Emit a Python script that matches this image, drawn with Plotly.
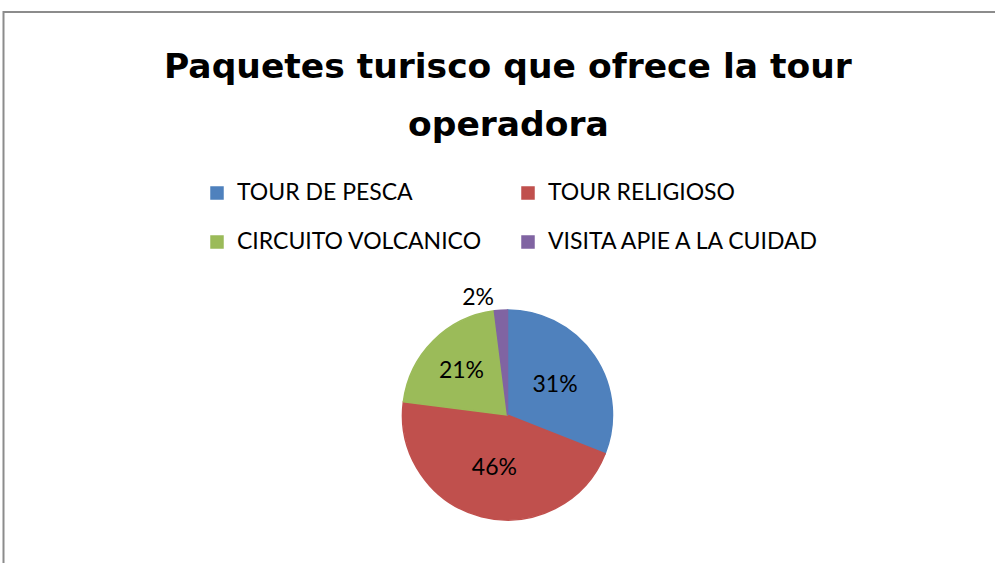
import plotly.graph_objects as go

categories = ["TOUR DE PESCA", "TOUR RELIGIOSO", "CIRCUITO VOLCANICO", "VISITA APIE A LA CUIDAD"]
values = [31, 46, 21, 2]
colors = ["#4F81BD", "#C0504D", "#9BBB59", "#8064A2"]
title_line1 = "Paquetes turisco que ofrece la tour"
title_line2 = "operadora"

W, H = 995, 563
ML, MR = 100, 100
PW = W - ML - MR
FONT = "Lato"
TITLE_FONT = "DejaVu Sans"
LEG_TXT = 23
LEG_LINE = 23.0 / 1.3  # legend font size giving 49px rows (two-line trick)


def px_x(p):
    return (p - ML) / PW


def px_y(p):
    return 1 - p / H


legend_labels = ["<span style='font-size:%dpx'>%s</span><br> " % (LEG_TXT, c) for c in categories]

fig = go.Figure()
fig.add_trace(go.Pie(
    labels=legend_labels,
    values=values,
    customdata=categories,
    hovertemplate="%{customdata}: %{percent}<extra></extra>",
    marker=dict(colors=colors, line=dict(color=colors, width=1.5)),
    sort=False,
    direction="clockwise",
    rotation=0,
    textinfo="percent",
    textposition=["inside", "inside", "inside", "outside"],
    insidetextorientation="horizontal",
    textfont=dict(family=FONT, size=23, color="black"),
    domain=dict(x=[px_x(402.5), px_x(612.5)], y=[px_y(520), px_y(310)]),
))

fig.update_layout(
    width=W, height=H,
    margin=dict(l=ML, r=MR, t=0, b=0, autoexpand=False),
    paper_bgcolor="white",
    plot_bgcolor="white",
    font=dict(family=FONT, color="black"),
    showlegend=True,
    legend=dict(
        orientation="h",
        x=px_x(197), xanchor="left",
        y=px_y(175), yanchor="top",
        entrywidth=266, entrywidthmode="pixels",
        valign="top",
        font=dict(family=FONT, size=LEG_LINE, color="black"),
        itemclick=False, itemdoubleclick=False,
    ),
    shapes=[dict(
        type="rect", xref="paper", yref="paper",
        x0=px_x(3.5), x1=px_x(1040), y0=-0.1, y1=px_y(12),
        line=dict(color="#8C8C8C", width=2), fillcolor="rgba(0,0,0,0)", layer="below",
    )],
    annotations=[
        dict(text="<b>" + title_line1 + "</b>", x=px_x(508), y=px_y(66), xref="paper", yref="paper",
             xanchor="center", yanchor="middle", showarrow=False,
             font=dict(family=TITLE_FONT, size=34.5, color="black")),
        dict(text="<b>" + title_line2 + "</b>", x=px_x(508), y=px_y(124), xref="paper", yref="paper",
             xanchor="center", yanchor="middle", showarrow=False,
             font=dict(family=TITLE_FONT, size=34.5, color="black")),
    ],
)

fig.write_html("out.html", config={"displayModeBar": False},
               post_script="document.body.style.margin='0';document.body.style.overflow='hidden';")
